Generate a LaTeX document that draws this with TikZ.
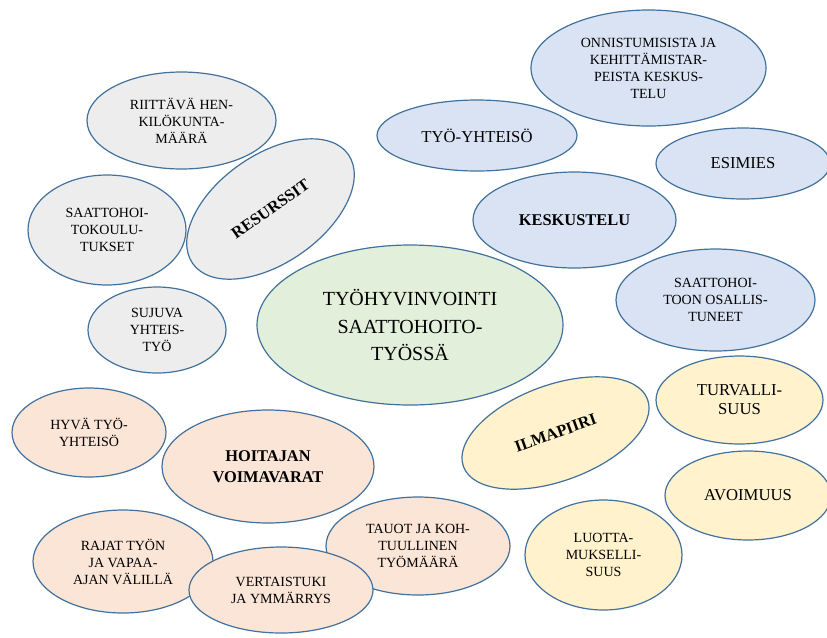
\documentclass[tikz,border=0pt]{standalone}
\usepackage{fontspec}
\setmainfont{Liberation Serif}
\usetikzlibrary{shapes.geometric}

\definecolor{edgeblue}{HTML}{41719C}
\definecolor{grayfill}{HTML}{EDEDED}
\definecolor{bluefill}{HTML}{DAE3F3}
\definecolor{greenfill}{HTML}{E2EFDA}
\definecolor{yellowfill}{HTML}{FFF2CC}
\definecolor{peachfill}{HTML}{FBE5D6}

\newcommand{\smalltxt}{\fontsize{10.5}{12.75}\selectfont}
\newcommand{\midtxt}{\fontsize{12.5}{14.25}\selectfont}
\newcommand{\boldtxt}{\fontsize{12.3}{15.5}\selectfont\bfseries}
\newcommand{\maintxt}{\fontsize{15}{20.6}\selectfont}

\tikzset{
  bubble/.style={ellipse, draw=edgeblue, line width=0.9pt, inner sep=0pt, align=center, font=\smalltxt},
  graybubble/.style={bubble, fill=grayfill},
  bluebubble/.style={bubble, fill=bluefill},
  yellowbubble/.style={bubble, fill=yellowfill},
  peachbubble/.style={bubble, fill=peachfill},
}

\begin{document}
\begin{tikzpicture}[x=0.75pt,y=-0.75pt]
		%%%%% START %%%%%
		\useasboundingbox (0,0) rectangle (827,637);
		
		% resurssit
		\node[graybubble, minimum width=141.75pt, minimum height=72.75pt] (riittava) at (181.5,120.5) {RIITTÄVÄ HEN-\\KILÖKUNTA-\\MÄÄRÄ};
		\node[graybubble, minimum width=118.5pt, minimum height=82.5pt] (koulutus) at (107,230) {SAATTOHOI-\\TOKOULU-\\TUKSET};
		\node[graybubble, rotate=35, minimum width=142.5pt, minimum height=81pt, font=\boldtxt] (resurssit) at (270.5,209) {RESURSSIT};
		\node[graybubble, minimum width=103.5pt, minimum height=64.5pt] (sujuva) at (157,330) {SUJUVA\\YHTEIS-\\TYÖ};
		
		% keskus
		\node[bubble, fill=greenfill, minimum width=229.5pt, minimum height=120pt, font=\maintxt] (tyohyvinvointi) at (410,325) {TYÖHYVINVOINTI\\SAATTOHOITO-\\TYÖSSÄ};
		
		% keskustelu
		\node[bluebubble, minimum width=176.25pt, minimum height=87pt] (onnistumiset) at (648.5,68) {ONNISTUMISISTA JA\\KEHITTÄMISTAR-\\PEISTA KESKUS-\\TELU};
		\node[bluebubble, minimum width=150pt, minimum height=53.25pt, font=\midtxt] (tyoyhteiso) at (477,135.5) {TYÖ-YHTEISÖ};
		\node[bluebubble, minimum width=130.5pt, minimum height=53.25pt, font=\midtxt] (esimies) at (743,163.5) {ESIMIES};
		\node[bluebubble, minimum width=152.25pt, minimum height=72pt, font=\boldtxt] (keskustelu) at (574.5,220) {KESKUSTELU};
		\node[bluebubble, minimum width=149.25pt, minimum height=76.5pt] (osalliset) at (715.5,300) {SAATTOHOI-\\TOON OSALLIS-\\TUNEET};
		
		% ilmapiiri
		\node[yellowbubble, rotate=20, minimum width=147pt, minimum height=72pt, font=\boldtxt] (ilmapiiri) at (555.5,433) {ILMAPIIRI};
		\node[yellowbubble, minimum width=125.25pt, minimum height=66pt, font=\midtxt] (turvallisuus) at (739.5,400) {TURVALLI-\\SUUS};
		\node[yellowbubble, minimum width=124.5pt, minimum height=66.75pt, font=\midtxt] (avoimuus) at (748,495.5) {AVOIMUUS};
		\node[yellowbubble, minimum width=117.75pt, minimum height=82.5pt] (luottamus) at (603.5,555) {LUOTTA-\\MUKSELLI-\\SUUS};
		
		% voimavarat
		\node[peachbubble, minimum width=115.5pt, minimum height=66.75pt] (hyvayhteiso) at (89,432.5) {HYVÄ TYÖ-\\YHTEISÖ};
		\node[peachbubble, minimum width=159pt, minimum height=84.75pt, font=\boldtxt] (voimavarat) at (268,466.5) {HOITAJAN\\VOIMAVARAT};
		\node[peachbubble, minimum width=135pt, minimum height=77.25pt] (rajat) at (123,561.5) {RAJAT TYÖN\\JA VAPAA-\\AJAN VÄLILLÄ};
		\node[peachbubble, minimum width=138pt, minimum height=73.5pt] (tauot) at (418,546) {TAUOT JA KOH-\\TUULLINEN\\TYÖMÄÄRÄ};
		\node[peachbubble, minimum width=138pt, minimum height=64.5pt] (vertaistuki) at (281,590) {VERTAISTUKI\\JA YMMÄRRYS};
		
		%%%%% END %%%%%
	\end{tikzpicture}
\end{document}
